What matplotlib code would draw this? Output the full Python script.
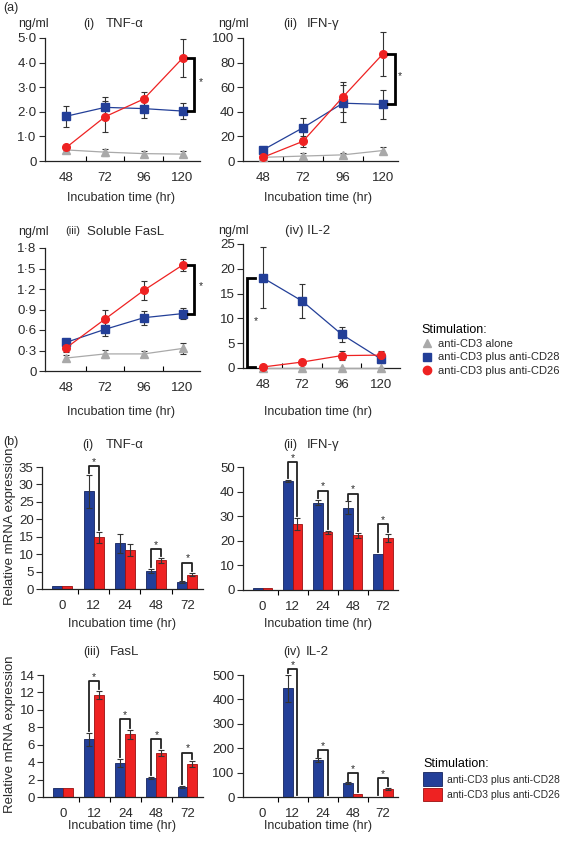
import matplotlib
matplotlib.use('Agg')
import matplotlib.pyplot as plt
import numpy as np
from matplotlib.lines import Line2D
from matplotlib.patches import Patch

plt.rcParams['font.family'] = ['Liberation Sans', 'DejaVu Sans']
plt.rcParams['font.size'] = 9

W, H = 567., 841.

# ---- (a) protein secretion, ng/ml ----
times_a = ['48', '72', '96', '120']

tnf_cd3 = [0.45, 0.36, 0.30, 0.28]
tnf_cd3_err = [0.10, 0.14, 0.10, 0.12]
tnf_cd28 = [1.82, 2.18, 2.13, 2.03]
tnf_cd28_err = [0.42, 0.42, 0.40, 0.32]
tnf_cd26 = [0.55, 1.80, 2.52, 4.18]
tnf_cd26_err = [0.08, 0.62, 0.30, 0.76]

ifn_cd3 = [3, 4, 5, 8.5]
ifn_cd3_err = [1, 2.5, 1.5, 3]
ifn_cd28 = [9, 27, 47, 46]
ifn_cd28_err = [2, 8, 15, 12]
ifn_cd26 = [3, 16, 52, 87]
ifn_cd26_err = [1, 4.5, 12, 18]

fasl_cd3 = [0.19, 0.25, 0.25, 0.33]
fasl_cd3_err = [0.05, 0.06, 0.05, 0.08]
fasl_cd28 = [0.42, 0.61, 0.78, 0.84]
fasl_cd28_err = [0.05, 0.10, 0.10, 0.08]
fasl_cd26 = [0.34, 0.76, 1.18, 1.55]
fasl_cd26_err = [0.06, 0.14, 0.14, 0.09]

il2_cd3 = [0, 0, 0, 0]
il2_cd3_err = [0, 0, 0, 0]
il2_cd28 = [18.2, 13.5, 6.8, 1.8]
il2_cd28_err = [6.2, 3.5, 1.5, 0.8]
il2_cd26 = [0.2, 1.2, 2.5, 2.6]
il2_cd26_err = [0.2, 0.4, 0.9, 0.8]

# ---- (b) relative mRNA expression ----
times_b = ['0', '12', '24', '48', '72']

tnf_m28 = [1, 28.0, 13.1, 5.2, 2.0]
tnf_m28_err = [0, 4.8, 2.7, 0.6, 0.2]
tnf_m26 = [1, 14.8, 11.1, 8.2, 4.1]
tnf_m26_err = [0, 1.5, 1.7, 0.8, 0.5]

ifn_m28 = [1, 44.2, 35.5, 33.4, 14.5]
ifn_m28_err = [0, 0.4, 1.0, 2.6, 0]
ifn_m26 = [1, 26.8, 23.5, 22.3, 21.2]
ifn_m26_err = [0, 2.4, 0.6, 1.0, 1.5]

fasl_m28 = [1, 6.6, 3.9, 2.17, 1.15]
fasl_m28_err = [0, 0.75, 0.45, 0.1, 0.1]
fasl_m26 = [1, 11.7, 7.2, 5.1, 3.8]
fasl_m26_err = [0, 0.45, 0.5, 0.35, 0.35]

il2_m28 = [0, 445, 150, 57, 2]
il2_m28_err = [0, 55, 8, 3, 0]
il2_m26 = [0, 2, 2, 14, 34]
il2_m26_err = [0, 0, 0, 0, 4]

# bracket tops (b panels), only for times marked '*'
tnf_br = [None, 35.3, None, 11.4, 7.6]
ifn_br = [None, 51.9, 40.3, 39.2, 26.8]
fasl_br = [None, 13.3, 8.9, 6.6, 5.1]
il2_br = [None, 523, 191, 98, 78]

BLUE = '#233f98'
RED = '#ee2222'
GRAY = '#a9a9a9'
ECOL = '#333333'
TCOL = '#2a2a2a'

fig = plt.figure(figsize=(W / 100, H / 100), dpi=100)


def px_axes(x0, x1, y0, y1):
    return fig.add_axes([x0 / W, 1 - y1 / H, (x1 - x0) / W, (y1 - y0) / H])


def style(ax, tickdir):
    for s in ['top', 'right']:
        ax.spines[s].set_visible(False)
    for s in ['left', 'bottom']:
        ax.spines[s].set_linewidth(0.9)
        ax.spines[s].set_color('#222222')
    ax.tick_params(axis='y', length=4, width=0.8, pad=2, labelsize=9.5, colors=TCOL)
    ax.tick_params(axis='x', which='major', length=0, pad=8, labelsize=9.5, colors=TCOL)
    ax.tick_params(axis='x', which='minor', length=3.5, width=0.8, direction=tickdir)


def line_panel(ax, data, ylim, yticks, ylabels, xlim):
    x = np.arange(len(times_a))
    specs = [(GRAY, '^', 5.5), (BLUE, 's', 5.5), (RED, 'o', 5.5)]
    for (vals, errs), (c, m, ms) in zip(data, specs):
        ax.errorbar(x, vals, yerr=errs, color=c, marker=m, ms=ms, lw=0.9,
                    ecolor=ECOL, elinewidth=0.8, capsize=2, capthick=0.8,
                    clip_on=False, zorder=3)
    ax.set_xlim(*xlim)
    ax.set_ylim(*ylim)
    ax.set_xticks(x)
    ax.set_xticklabels(times_a)
    ax.set_xticks(x[:-1] + 0.5, minor=True)
    ax.set_yticks(yticks)
    ax.set_yticklabels(ylabels)
    style(ax, 'in')


def bar_panel(ax, b28, e28, b26, e26, br, ylim, yticks):
    x = np.arange(len(times_b))
    w = 0.32
    ax.bar(x - w / 2, b28, w, color=BLUE, edgecolor='#14245e', lw=0.6, zorder=2)
    ax.bar(x + w / 2, b26, w, color=RED, edgecolor='#9a1010', lw=0.6, zorder=2)
    e28m = np.where(np.array(e28) > 0, e28, np.nan)
    e26m = np.where(np.array(e26) > 0, e26, np.nan)
    ax.errorbar(x - w / 2, b28, yerr=e28m, fmt='none', ecolor=ECOL, elinewidth=0.8,
                capsize=2, capthick=0.8, zorder=3)
    ax.errorbar(x + w / 2, b26, yerr=e26m, fmt='none', ecolor=ECOL, elinewidth=0.8,
                capsize=2, capthick=0.8, zorder=3)
    span = ylim[1] - ylim[0]
    gap = 0.015 * span
    for i, top in enumerate(br):
        if top is None:
            continue
        lo_l = b28[i] + e28[i] + gap
        lo_r = b26[i] + e26[i] + gap
        ax.plot([x[i] - w / 2, x[i] - w / 2, x[i] + w / 2, x[i] + w / 2],
                [lo_l, top, top, lo_r], color='#222222', lw=1.3, clip_on=False, zorder=4)
        ax.text(x[i], top + 0.035 * span, '*', ha='center', va='center',
                fontsize=7.5, color=TCOL, clip_on=False)
    ax.set_xlim(-0.65, 4.5)
    ax.set_ylim(*ylim)
    ax.set_xticks(x)
    ax.set_xticklabels(times_b)
    ax.set_xticks(x[:-1] + 0.5, minor=True)
    ax.set_yticks(yticks)
    style(ax, 'out')


def a_bracket(ax, x0, x1, top, bottom, sx, sy):
    ax.plot([x0, x1, x1, x0], [top, top, bottom, bottom], color='black', lw=2,
            clip_on=False, zorder=4, solid_joinstyle='miter')
    ax.text(sx, sy, '*', ha='center', va='center', fontsize=7.5, color=TCOL,
            clip_on=False)


# ---- panel (a) ----
ax1 = px_axes(45, 200, 38, 161)
line_panel(ax1, [(tnf_cd3, tnf_cd3_err), (tnf_cd28, tnf_cd28_err), (tnf_cd26, tnf_cd26_err)],
           (0, 5), [0, 1, 2, 3, 4, 5], ['0', '1·0', '2·0', '3·0', '4·0', '5·0'], (-0.55, 3.45))
a_bracket(ax1, 3.14, 3.3, tnf_cd26[3], tnf_cd28[3], 3.48, 3.2)

ax2 = px_axes(243, 398, 38, 161)
line_panel(ax2, [(ifn_cd3, ifn_cd3_err), (ifn_cd28, ifn_cd28_err), (ifn_cd26, ifn_cd26_err)],
           (0, 100), [0, 20, 40, 60, 80, 100], ['0', '20', '40', '60', '80', '100'], (-0.5, 3.38))
a_bracket(ax2, 3.12, 3.3, ifn_cd26[3], ifn_cd28[3], 3.42, 69)

ax3 = px_axes(45, 200, 248, 371)
line_panel(ax3, [(fasl_cd3, fasl_cd3_err), (fasl_cd28, fasl_cd28_err), (fasl_cd26, fasl_cd26_err)],
           (0, 1.8), [0, 0.3, 0.6, 0.9, 1.2, 1.5, 1.8],
           ['0', '0·3', '0·6', '0·9', '1·2', '1·5', '1·8'], (-0.55, 3.45))
a_bracket(ax3, 3.14, 3.3, fasl_cd26[3], fasl_cd28[3], 3.48, 1.24)

ax4 = px_axes(243, 400, 244, 368)
line_panel(ax4, [(il2_cd3, il2_cd3_err), (il2_cd28, il2_cd28_err), (il2_cd26, il2_cd26_err)],
           (0, 25), [0, 5, 10, 15, 20, 25], ['0', '5', '10', '15', '20', '25'], (-0.5, 3.48))
a_bracket(ax4, -0.2, -0.4, il2_cd28[0], 0.3, -0.17, 9.4)

# ---- panel (b) ----
bx1 = px_axes(42, 203, 467, 589)
bar_panel(bx1, tnf_m28, tnf_m28_err, tnf_m26, tnf_m26_err, tnf_br, (0, 35), range(0, 36, 5))
bx2 = px_axes(243, 398, 467, 590)
bar_panel(bx2, ifn_m28, ifn_m28_err, ifn_m26, ifn_m26_err, ifn_br, (0, 50), range(0, 51, 10))
bx3 = px_axes(43, 203, 675, 797)
bar_panel(bx3, fasl_m28, fasl_m28_err, fasl_m26, fasl_m26_err, fasl_br, (0, 14), range(0, 15, 2))
bx4 = px_axes(243, 398, 675, 797)
bar_panel(bx4, il2_m28, il2_m28_err, il2_m26, il2_m26_err, il2_br, (0, 500), range(0, 501, 100))


def ftext(x, y, s, **kw):
    kw.setdefault('fontsize', 9)
    kw.setdefault('ha', 'left')
    kw.setdefault('va', 'center')
    kw.setdefault('color', TCOL)
    fig.text(x / W, 1 - y / H, s, **kw)


ftext(3, 8, '(a)')
ftext(18, 24, 'ng/ml')
ftext(83, 24, '(i)')
ftext(106, 24, 'TNF-α', fontsize=9.5)
ftext(218, 24, 'ng/ml')
ftext(283, 24, '(ii)')
ftext(307, 24, 'IFN-γ', fontsize=9.5)
ftext(18, 232, 'ng/ml')
ftext(65, 231, '(iii)', fontsize=8)
ftext(87, 232, 'Soluble FasL', fontsize=9.5)
ftext(218, 231, 'ng/ml')
ftext(285, 231, '(iv) IL-2', fontsize=9.5)

ftext(3, 442, '(b)')
ftext(82, 445, '(i)')
ftext(106, 445, 'TNF-α', fontsize=9.5)
ftext(283, 445, '(ii)')
ftext(307, 445, 'IFN-γ', fontsize=9.5)
ftext(83, 652, '(iii)')
ftext(110, 652, 'FasL', fontsize=9.5)
ftext(283, 652, '(iv)')
ftext(306, 652, 'IL-2', fontsize=9.5)

for cx, cy in [(121, 198), (318, 198), (121, 412), (318, 412),
               (122, 624), (318, 624), (122, 826), (318, 826)]:
    ftext(cx, cy, 'Incubation time (hr)', ha='center')

ftext(10, 526, 'Relative mRNA expression', ha='center', rotation=90, fontsize=9.5)
ftext(10, 734, 'Relative mRNA expression', ha='center', rotation=90, fontsize=9.5)

# ---- legends ----
handles_a = [Line2D([], [], color=GRAY, marker='^', ls='none', ms=6),
             Line2D([], [], color=BLUE, marker='s', ls='none', ms=6),
             Line2D([], [], color=RED, marker='o', ls='none', ms=6)]
fig.legend(handles_a, ['anti-CD3 alone', 'anti-CD3 plus anti-CD28', 'anti-CD3 plus anti-CD26'],
           loc='upper left', bbox_to_anchor=(414 / W, 1 - 316 / H), frameon=False,
           title='Stimulation:', alignment='left', fontsize=8, title_fontsize=9,
           handlelength=1.0, handletextpad=0.5, labelspacing=0.3, borderpad=0.2,
           labelcolor=TCOL)

handles_b = [Patch(facecolor=BLUE, edgecolor='#14245e', lw=0.6),
             Patch(facecolor=RED, edgecolor='#9a1010', lw=0.6)]
fig.legend(handles_b, ['anti-CD3 plus anti-CD28', 'anti-CD3 plus anti-CD26'],
           loc='upper left', bbox_to_anchor=(414 / W, 1 - 749 / H), frameon=False,
           title='Stimulation:', alignment='left', fontsize=7.5, title_fontsize=9,
           handlelength=1.8, handleheight=1.6, handletextpad=0.5, labelspacing=0.2,
           borderpad=0.4, labelcolor=TCOL)

fig.savefig('out.png', dpi=100)
